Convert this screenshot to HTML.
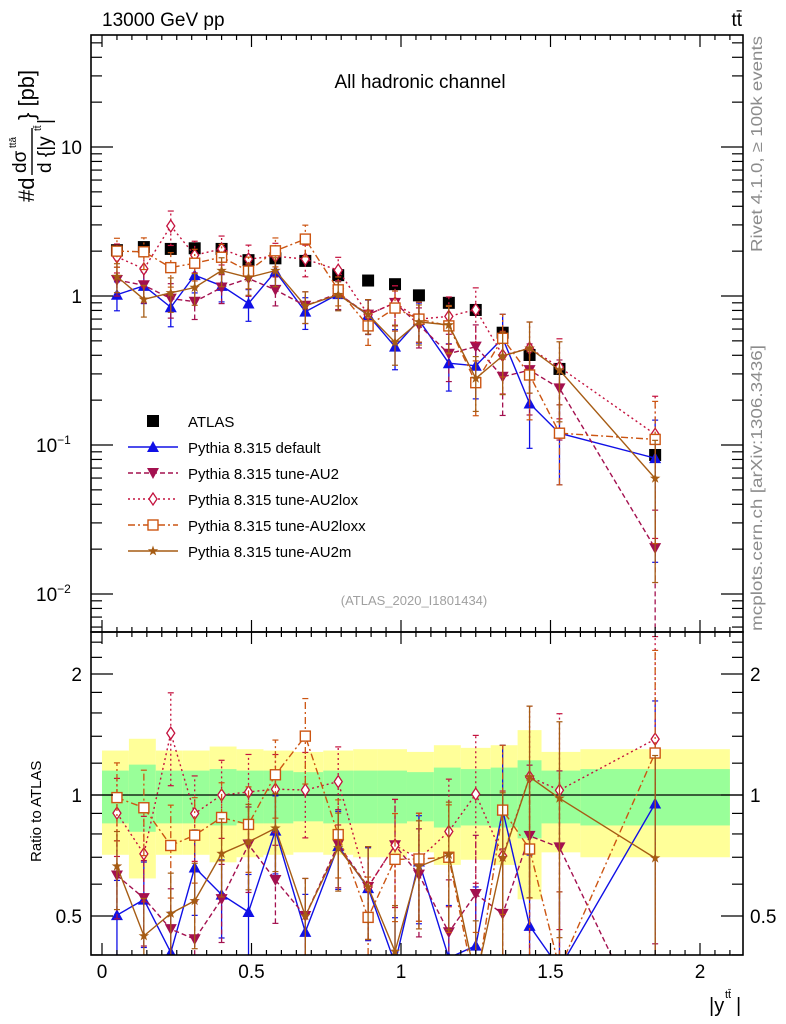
<!DOCTYPE html>
<html><head><meta charset="utf-8">
<style>
html,body{margin:0;padding:0;background:#fff;overflow:hidden;width:786px;height:1024px;}
svg{display:block;}
svg text{font-family:"Liberation Sans","DejaVu Sans",sans-serif;}
</style></head>
<body>
<svg id="c" width="786" height="1024" viewBox="0 0 786 1024" xmlns="http://www.w3.org/2000/svg">
<defs>
<clipPath id="clipMain"><rect x="91" y="35" width="652" height="597"/></clipPath>
<clipPath id="clipRatio"><rect x="91" y="632" width="652" height="323"/></clipPath>
</defs>
<g id="bands" clip-path="url(#clipRatio)"></g>
<g id="ratio" clip-path="url(#clipRatio)"></g>
<g id="main" clip-path="url(#clipMain)"></g>
<g id="axes"></g>
<text x="102" y="26" font-size="19">13000 GeV pp</text>
<text x="742" y="26" font-size="19" text-anchor="end">tt̄</text>
<text x="420" y="88" font-size="19" text-anchor="middle">All hadronic channel</text>
<text x="414" y="605" font-size="13" fill="#a0a0a0" text-anchor="middle">(ATLAS_2020_I1801434)</text>
<text transform="translate(762,252) rotate(-90)" font-size="15.5" fill="#8c8c8c" textLength="216" lengthAdjust="spacingAndGlyphs">Rivet 4.1.0, ≥ 100k events</text>
<text transform="translate(762,631) rotate(-90)" font-size="15.5" fill="#8c8c8c" textLength="286" lengthAdjust="spacingAndGlyphs">mcplots.cern.ch [arXiv:1306.3436]</text>
<g transform="translate(34,202) rotate(-90)">
<text x="0" y="0" font-size="22">#d</text>
<text x="29" y="-8" font-size="19">dσ</text>
<text x="54" y="-18" font-size="10">ttā</text>
<line x1="27" y1="-2" x2="74" y2="-2" stroke="#000" stroke-width="1.4"/>
<text x="29" y="17" font-size="19">d {|y</text>
<text x="71" y="7" font-size="10">tt̄</text>
<text x="78" y="17" font-size="19">|</text>
<text x="82" y="0" font-size="22">} [pb]</text>
</g>
<text transform="translate(41,862) rotate(-90)" font-size="15">Ratio to ATLAS</text>
<g><text x="709" y="1012" font-size="20">|y</text><text x="725" y="998" font-size="11">tt̄</text><text x="736" y="1012" font-size="20">|</text></g>
<g id="legend"></g>
</svg>
<script>
const edges=[0,0.09,0.18,0.27,0.36,0.45,0.54,0.64,0.74,0.84,0.92,1.02,1.11,1.2,1.3,1.39,1.47,1.6,2.1];
const centers=[0.05,0.14,0.23,0.31,0.40,0.49,0.58,0.68,0.79,0.89,0.98,1.06,1.16,1.25,1.34,1.43,1.53,1.85];
const atlas=[2.03,2.13,2.07,2.09,2.07,1.74,1.79,1.72,1.38,1.27,1.20,1.01,0.90,0.806,0.567,0.402,0.324,0.0857];
const bandInner=[0.15,0.19,0.15,0.15,0.16,0.15,0.15,0.14,0.15,0.15,0.15,0.14,0.17,0.16,0.17,0.22,0.15,0.16];
const bandOuter=[0.29,0.38,0.29,0.29,0.32,0.30,0.29,0.28,0.29,0.30,0.30,0.28,0.33,0.31,0.33,0.45,0.28,0.30];
const pyDefault=[1.02,1.17,0.84,1.38,1.17,0.89,1.46,0.785,1.03,0.745,0.457,0.69,0.354,0.34,0.52,0.19,0.12,0.0816];
const pyAU2=[1.28,1.18,0.96,0.915,1.14,1.31,1.10,0.86,1.04,0.75,0.90,0.64,0.41,0.457,0.287,0.318,0.24,0.0203];
const pyAU2lox=[1.83,1.52,2.95,1.88,2.07,1.77,1.85,1.77,1.49,0.75,0.90,0.70,0.73,0.81,0.40,0.446,0.333,0.118];
const pyAU2loxx=[2.0,1.98,1.55,1.66,1.82,1.47,2.01,2.41,1.10,0.63,0.83,0.70,0.63,0.262,0.52,0.295,0.12,0.109];
const pyAU2m=[1.35,0.95,1.05,1.14,1.48,1.33,1.48,0.86,1.02,0.75,0.49,0.67,0.64,0.28,0.396,0.446,0.318,0.0597];
const mcRelErr=[0.22,0.24,0.26,0.24,0.22,0.24,0.22,0.24,0.22,0.26,0.3,0.3,0.35,0.4,0.45,0.5,0.55,0.8];
const mainTicks=[10,1,0.1,0.01];
const ratioTicks=[2,1,0.5];
const xTicks=[0,0.5,1,1.5,2];

const NS='http://www.w3.org/2000/svg';
const X0=91,X1=743,YT=35,YM=632,YB=955;
function xs(v){return 102+v*299;}
function ys(v){return 296-149*Math.log10(v);}
function yr(v){return 795-121*Math.log2(v);}
function mk(tag,at,parent){const e=document.createElementNS(NS,tag);for(const k in at)e.setAttribute(k,at[k]);parent.appendChild(e);return e;}

const series=[
 {name:'Pythia 8.315 default',vals:pyDefault,color:'#1010e6',dash:'',marker:'tri-up',key:'default'},
 {name:'Pythia 8.315 tune-AU2',vals:pyAU2,color:'#a3104f',dash:'5,3',marker:'tri-down',key:'au2'},
 {name:'Pythia 8.315 tune-AU2lox',vals:pyAU2lox,color:'#c4123e',dash:'2,3',marker:'diamond',key:'au2lox'},
 {name:'Pythia 8.315 tune-AU2loxx',vals:pyAU2loxx,color:'#cc5512',dash:'7,3,2,3',marker:'square',key:'au2loxx'},
 {name:'Pythia 8.315 tune-AU2m',vals:pyAU2m,color:'#a65c14',dash:'',marker:'star',key:'au2m'}
];

function marker(g,type,x,y,color){
 let e;
 if(type==='tri-up'){e=mk('polygon',{points:`${x},${y-6} ${x-6},${y+5} ${x+6},${y+5}`,fill:color},g);}
 else if(type==='tri-down'){e=mk('polygon',{points:`${x},${y+6} ${x-6},${y-5} ${x+6},${y-5}`,fill:color},g);}
 else if(type==='diamond'){e=mk('polygon',{points:`${x},${y-6} ${x-4},${y} ${x},${y+6} ${x+4},${y}`,fill:'#fff',stroke:color,'stroke-width':1.3},g);}
 else if(type==='square'){e=mk('rect',{x:x-5,y:y-5,width:10,height:10,fill:'#fff',stroke:color,'stroke-width':1.4},g);}
 else if(type==='star'){let p=[];for(let i=0;i<10;i++){const r=i%2?2.2:5.5,a=-Math.PI/2+i*Math.PI/5;p.push((x+r*Math.cos(a)).toFixed(1)+','+(y+r*Math.sin(a)).toFixed(1));}e=mk('polygon',{points:p.join(' '),fill:color},g);}
 else if(type==='sq-fill'){e=mk('rect',{x:x-6,y:y-6,width:12,height:12,fill:color},g);}
 return e;
}

const gb=document.getElementById('bands');
for(let i=0;i<centers.length;i++){
 const x1=xs(edges[i]),x2=xs(edges[i+1]);
 let r=mk('rect',{x:x1,y:yr(1+bandOuter[i]),width:x2-x1,height:yr(1-bandOuter[i])-yr(1+bandOuter[i]),fill:'#ffff99'},gb);
 
 
 let r2=mk('rect',{x:x1,y:yr(1+bandInner[i]),width:x2-x1,height:yr(1-bandInner[i])-yr(1+bandInner[i]),fill:'#99ff99'},gb);
 
 
}
mk('line',{x1:X0,y1:yr(1),x2:X1,y2:yr(1),stroke:'#000','stroke-width':1.3},gb);

function drawSeries(gparent,s,yfun,ratio){
 const g=mk('g',{},gparent);
 
 
 const pts=[];
 s.vals.forEach((v,i)=>{
  const val=ratio?v/atlas[i]:v;
  const x=xs(centers[i]),y=yfun(val);
  pts.push(x.toFixed(1)+','+y.toFixed(1));
  const lo=Math.max(val*(1-mcRelErr[i]),1e-4),hi=val*(1+mcRelErr[i]);
  const eb=mk('line',{x1:x,y1:yfun(lo),x2:x,y2:yfun(hi),stroke:s.color,'stroke-width':1.3,'stroke-dasharray':s.dash},g);
  
  
  mk('line',{x1:x-3,y1:yfun(lo),x2:x+3,y2:yfun(lo),stroke:s.color,'stroke-width':1.2},g);
  mk('line',{x1:x-3,y1:yfun(hi),x2:x+3,y2:yfun(hi),stroke:s.color,'stroke-width':1.2},g);
 });
 const pl=mk('polyline',{points:pts.join(' '),fill:'none',stroke:s.color,'stroke-width':1.4,'stroke-dasharray':s.dash},g);
 
 
 s.vals.forEach((v,i)=>{
  const val=ratio?v/atlas[i]:v;
  const m=marker(g,s.marker,xs(centers[i]),yfun(val),s.color);
  
  
 });
}
const gm=document.getElementById('main'),gr=document.getElementById('ratio');
const gd=mk('g',{},gm);


atlas.forEach((v,i)=>{
 const m=marker(gd,'sq-fill',xs(centers[i]),ys(v),'#000');
 
 
});
series.forEach(s=>{drawSeries(gm,s,ys,false);drawSeries(gr,s,yr,true);});

const ga=document.getElementById('axes');
mk('rect',{x:X0,y:YT,width:X1-X0,height:YM-YT,fill:'none',stroke:'#000','stroke-width':1.6},ga);
mk('rect',{x:X0,y:YM,width:X1-X0,height:YB-YM,fill:'none',stroke:'#000','stroke-width':1.6},ga);
function tickL(y,len,y0,y1){if(y<y0-0.5||y>y1+0.5)return;mk('line',{x1:X0,y1:y,x2:X0+len,y2:y,stroke:'#000','stroke-width':1.2},ga);mk('line',{x1:X1,y1:y,x2:X1-len,y2:y,stroke:'#000','stroke-width':1.2},ga);}
for(let e=-3;e<=2;e++){for(let m=1;m<10;m++){const v=m*Math.pow(10,e);tickL(ys(v),m===1?22:11,YT,YM);}}
const labs={10:'10',1:'1',0.1:'10<tspan dy="-8" font-size="12">−1</tspan>',0.01:'10<tspan dy="-8" font-size="12">−2</tspan>'};
mainTicks.forEach(v=>{const t=mk('text',{x:v>=1?82:70,y:ys(v)+7,'font-size':19,'text-anchor':v>=1?'end':'start'},ga);t.innerHTML=labs[v];if(v<1){t.setAttribute('x',36);}
 
 });
[0.4,0.5,0.6,0.7,0.8,0.9,1,1.2,1.4,1.6,1.8,2,2.2,2.4].forEach(v=>tickL(yr(v),(v===0.5||v===1||v===2)?22:11,YM,YB));
ratioTicks.forEach(v=>{
 const t=mk('text',{x:82,y:yr(v)+7,'font-size':19,'text-anchor':'end'},ga);t.textContent=String(v);
 
 
 const t2=mk('text',{x:750,y:yr(v)+7,'font-size':19},ga);t2.textContent=String(v);
 
 
});
for(let k=-1;k<=44;k++){const v=k*0.05,x=xs(v);if(x<X0||x>X1)continue;const major=(k%10===0);const len=major?12:5;
 mk('line',{x1:x,y1:YB,x2:x,y2:YB-len,stroke:'#000','stroke-width':1.2},ga);
 mk('line',{x1:x,y1:YM,x2:x,y2:YM-len,stroke:'#000','stroke-width':1.2},ga);
 mk('line',{x1:x,y1:YM,x2:x,y2:YM+len,stroke:'#000','stroke-width':1.2},ga);
 mk('line',{x1:x,y1:YT,x2:x,y2:YT+len,stroke:'#000','stroke-width':1.2},ga);}
xTicks.forEach(v=>{const t=mk('text',{x:xs(v),y:978,'font-size':19,'text-anchor':'middle'},ga);t.textContent=String(v);
 
 });

const gl=document.getElementById('legend');
const ent=[{name:'ATLAS',marker:'sq-fill',color:'#000',dash:null}].concat(series);
ent.forEach((s,i)=>{
 const y=421+i*26;
 const g=mk('g',{},gl);
 
 
 if(s.dash!==null)mk('line',{x1:128,y1:y,x2:178,y2:y,stroke:s.color,'stroke-width':1.4,'stroke-dasharray':s.dash},g);
 marker(g,s.marker,153,y,s.color);
 const t=mk('text',{x:188,y:y+6,'font-size':15},g);t.textContent=s.name;
});
</script>
</body></html>
